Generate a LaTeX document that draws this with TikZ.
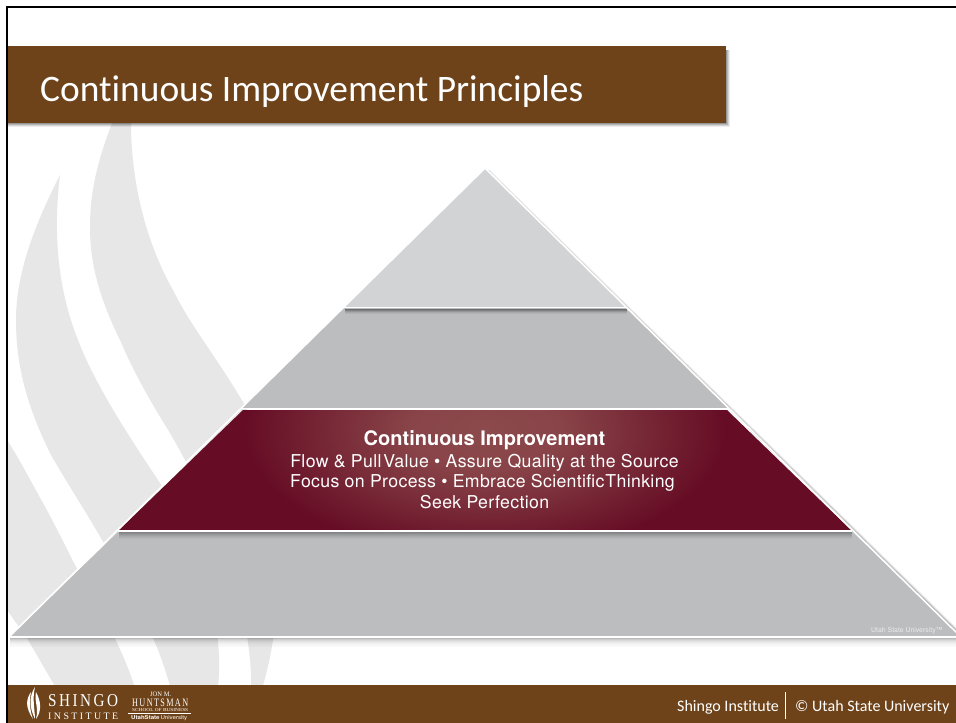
\documentclass[tikz,border=0pt]{standalone}
\usepackage{fontspec}
\usepackage{graphicx}
\setmainfont[Ligatures=NoCommon]{Carlito}
\newfontfamily\hel{TeX Gyre Heros}
\newfontfamily\heltext[LetterSpace=2]{TeX Gyre Heros}
\newfontfamily\logoserif{Liberation Serif}
\definecolor{brownband}{HTML}{6E431A}
\definecolor{tiertop}{HTML}{D1D3D4}
\definecolor{tiergrey}{HTML}{BCBDBF}
\definecolor{wineout}{HTML}{660D25}
\definecolor{winein}{HTML}{8C4A4C}
\definecolor{swooshgrey}{HTML}{E7E7E8}
\pgfdeclareradialshading{wineglow}{\pgfpointorigin}{color(0bp)=(winein); color(8bp)=(winein!90!wineout); color(25bp)=(wineout); color(50bp)=(wineout)}
\tikzset{
  swoosh/.style={fill=swooshgrey},
  edgewhite/.style={draw=white,line width=1.6pt,line cap=butt},
  titletext/.style={font=\fontsize{37.4}{37.4}\selectfont,text=white,anchor=base west,inner sep=0pt},
  foottext/.style={font=\fontsize{16}{16}\selectfont,text=white,anchor=base west,inner sep=0pt},
  cihead/.style={font=\hel\bfseries\fontsize{20}{20}\selectfont,text=white,anchor=base,inner sep=0pt},
  ciline/.style={font=\heltext\fontsize{17.7}{18}\selectfont,text=white,anchor=base,inner sep=0pt},
  logotext/.style={text=white,anchor=base west,inner sep=0pt,font=\logoserif},
}
\newcommand{\fitbox}[3]{\resizebox{#1pt}{#2pt}{#3}}
\begin{document}
\begin{tikzpicture}[x=1pt,y=-1pt]
\useasboundingbox (0,0) rectangle (956,723);
\fill[white] (0,0) rectangle (956,723);
% background swooshes
\fill[swoosh] (60,175) .. controls (33,228) and (16,275) .. (16,320)
  .. controls (16,360) and (24,400) .. (50,453)
  .. controls (65,480) and (85,510) .. (102,540)
  .. controls (125,580) and (160,640) .. (172,695)
  -- (217,695) .. controls (222,660) and (218,620) .. (205,575)
  .. controls (195,540) and (180,515) .. (160,483)
  .. controls (130,438) and (95,385) .. (78,340)
  .. controls (60,295) and (52,240) .. (60,175) -- cycle;
\fill[swoosh] (112,123) .. controls (96,165) and (90,195) .. (90,227)
  .. controls (90,270) and (103,305) .. (120,340)
  .. controls (135,375) and (150,400) .. (162,420)
  .. controls (200,480) and (255,600) .. (251,695)
  -- (260,695) .. controls (285,620) and (290,490) .. (243,402)
  .. controls (215,355) and (190,325) .. (173,290)
  .. controls (150,250) and (131,190) .. (131,123) -- cycle;
\fill[swoosh] (7,440) .. controls (20,460) and (30,480) .. (43,503)
  .. controls (55,525) and (65,545) .. (75,565)
  .. controls (90,590) and (125,650) .. (137,695)
  -- (60,695) -- (27,638) -- (7,610) -- cycle;
% title band
\foreach \i/\o in {4/.07,3/.10,2/.14,1/.18}{
  \fill[black,opacity=\o] (7,50) rectangle (726+\i,123+\i);
}
\fill[brownband] (7,46) rectangle (726,123);
\node[titletext] (title) at (40,101) {Continuous Improvement Principles};
% pyramid outer shadow on the right
\coordinate (apex) at (485,168);
\coordinate (lc) at (10,636);
\coordinate (rc) at (960,636);
\foreach \i/\o in {5/.05,4/.07,3/.10,2/.14,1/.18}{
  \fill[black,opacity=\o] (485+\i,170) -- (960+\i,636) -- (960,636) -- (485,170) -- cycle;
}
% tiers
\fill[tiertop] (apex) -- (344,307) -- (626,307) -- cycle;
\fill[tiergrey] (343,308) -- (242,408) -- (728,408) -- (627,308) -- cycle;
\fill[tiergrey] (119,531) -- (10,636) -- (960,636) -- (852,531) -- cycle;
% wine tier
\begin{scope}
  \clip (243,410) -- (119,530) -- (851,530) -- (727,410) -- cycle;
  \fill[wineout] (100,400) rectangle (870,540);
  \shade[shading=wineglow] (485,430) ellipse (240 and 125);
\end{scope}
% white rules and edges
\draw[edgewhite] (apex) -- (lc);
\draw[edgewhite] (apex) -- (rc);
\draw[draw=white,line width=1.5pt] (344,307.6) -- (627,307.6);
\draw[draw=white,line width=1.3pt] (242,408.4) -- (728,408.4);
\draw[draw=white,line width=1.6pt] (118,531) -- (852,531);
\draw[draw=white,line width=1.6pt] (9,637) -- (956,637);
% tier shadows
\foreach \i/\o in {0/.42,1/.32,2/.20,3/.11,4/.05}{
  \fill[black,opacity=\o] (345,308.5+\i) rectangle (627,309.5+\i);
}
\foreach \i/\o in {0/.30,1/.26,2/.20,3/.15,4/.10,5/.06,6/.03}{
  \fill[black,opacity=\o] (119,532+\i) rectangle (852,533+\i);
}
\foreach \i/\o in {0/.28,1/.20,2/.15,3/.11,4/.08,5/.06,6/.04,7/.03,8/.02}{
  \fill[black,opacity=\o] (10,638+\i) rectangle (956,639+\i);
}
% tier text
\node[cihead] (head) at (484.5,445) {Continuous Improvement};
\node[ciline] (l1) at (484.5,467) {Flow \& Pull\hspace{.1em}Value • Assure Quality at the Source};
\node[ciline] (l2) at (482.5,487.5) {Focus on Process • Embrace Scientific\hspace{.05em}Thinking};
\node[ciline] (l3) at (484.5,508) {Seek Perfection};
\node[anchor=base west,inner sep=0pt,text=white,opacity=.7,font=\hel\fontsize{6.9}{7}\selectfont] (usu) at (871,632.5) {Utah State University™};
% footer
\fill[brownband] (7,685) rectangle (956,723);
\node[foottext] (f1) at (677,711.5) {Shingo Institute};
\node[foottext] (f2) at (795,711.5) {© Utah State University};
\coordinate (sepa) at (785.5,692);
\coordinate (sepb) at (785.5,719);
\draw[white,line width=.9pt] (sepa) -- (sepb);
% logo flame
\fill[white] (31,692) .. controls (26,699) and (25,707) .. (33,719) .. controls (30,711) and (29,701) .. (31,692) -- cycle;
\fill[white] (35,687) .. controls (29,696) and (29,707) .. (35,719) .. controls (35,711) and (32,699) .. (35,687) -- cycle;
\fill[white] (36,692) .. controls (34,701) and (39,708) .. (36,719) .. controls (42,711) and (41,701) .. (36,692) -- cycle;
% logo text
\node[logotext] (shingo) at (48,706.5) {\fitbox{70}{12}{S\,H\,I\,N\,G\,O}};
\node[logotext] (inst) at (48,719) {\fitbox{70}{6.5}{I\ N\ S\ T\ I\ T\ U\ T\ E}};
\node[logotext] (jon) at (150,696) {\fitbox{21}{4.5}{JON M.}};
\node[logotext] (hunt) at (132,706.5) {\fitbox{56}{7.5}{H\,U\,N\,T\,S\,M\,A\,N}};
\node[logotext] (school) at (132,711) {\fitbox{56}{3}{SCHOOL OF BUSINESS}};
\draw[white,line width=.4pt] (128,713) -- (191,713);
\node[anchor=base west,inner sep=0pt,text=white,font=\hel\bfseries] (usu2) at (131,719) {\fitbox{56}{4}{UtahState\,\mdseries University}};
% slide frame
\fill[black] (6,6) rectangle (956,8);
\fill[black] (6,6) rectangle (8,723);
\end{tikzpicture}
\end{document}
